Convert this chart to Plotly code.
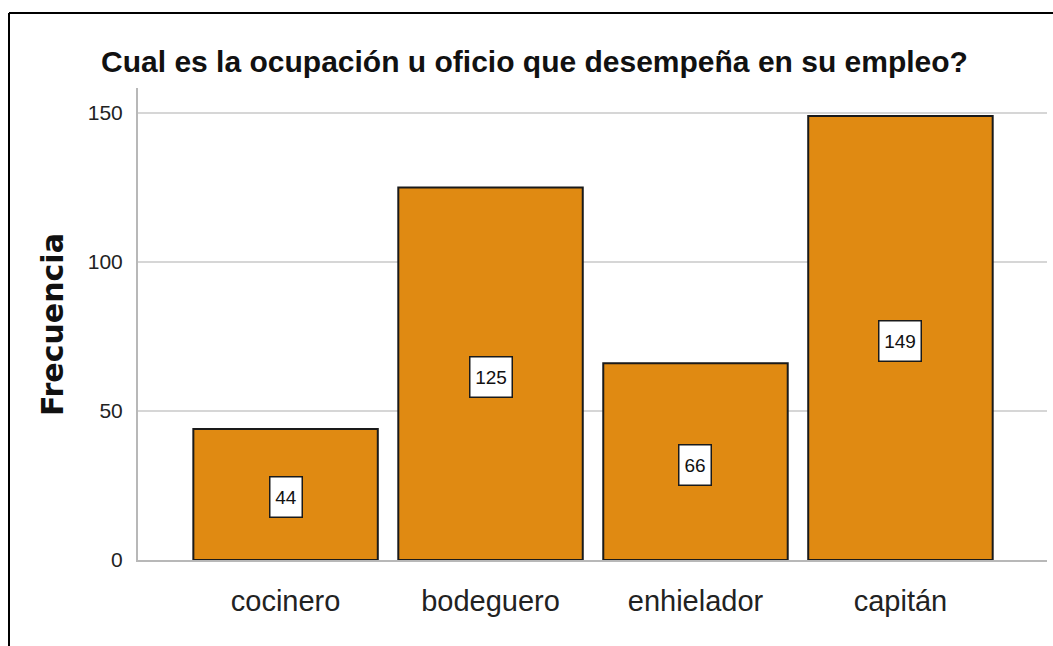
import plotly.graph_objects as go

categories = ["cocinero", "bodeguero", "enhielador", "capitán"]
frecuencia = [44, 125, 66, 149]
y_ticks = [0, 50, 100, 150]
title_text = "Cual es la ocupación u oficio que desempeña en su empleo?"
y_title = "Frecuencia"

SANS = "Liberation Sans, Arial, sans-serif"

fig = go.Figure()
fig.add_trace(go.Bar(
    x=categories, y=frecuencia, width=0.9,
    marker=dict(color="#E08A12", line=dict(color="#1a1a1a", width=2)),
    hoverinfo="x+y",
))

for c, v in zip(categories, frecuencia):
    s = str(v)
    fig.add_annotation(
        x=c, y=v / 2, xref="x", yref="y", yshift=-3, text=s, showarrow=False,
        font=dict(family=SANS, size=19, color="#111111"),
        bgcolor="white", bordercolor="#1a1a1a", borderwidth=1.5, borderpad=1,
        width=10 * len(s) + 9, height=37,
    )

fig.add_annotation(
    x=(52 - 138) / 909, y=(560 - 325) / 472, xref="paper", yref="paper",
    text="<b>" + y_title + "</b>", showarrow=False, textangle=-90,
    font=dict(family="DejaVu Sans", size=30, color="#111111"),
    xanchor="center", yanchor="middle",
)

# outer frame (top and left edges)
fig.add_shape(type="line", xref="paper", yref="paper",
              x0=(9 - 138) / 909, x1=(1053 - 138) / 909,
              y0=(560 - 13) / 472, y1=(560 - 13) / 472,
              line=dict(color="black", width=2))
fig.add_shape(type="line", xref="paper", yref="paper",
              x0=(9 - 138) / 909, x1=(9 - 138) / 909,
              y0=(560 - 13) / 472, y1=(560 - 646) / 472,
              line=dict(color="black", width=2))

fig.update_layout(
    width=1053, height=646,
    margin=dict(l=138, r=6, t=88, b=86),
    paper_bgcolor="white", plot_bgcolor="white",
    showlegend=False,
    title=dict(text="<b>" + title_text + "</b>", x=534.5 / 1053, xanchor="center",
               y=1 - 61 / 646, yanchor="middle",
               font=dict(family=SANS, size=30, color="#111111")),
    bargap=0.1,
)
fig.update_xaxes(
    type="category", range=[-0.72, 3.715],
    showgrid=False, showline=True, linecolor="#b8b8b8", linewidth=2,
    ticks="", ticklabelstandoff=14,
    tickfont=dict(family=SANS, size=29, color="#222222"),
    zeroline=False,
)
fig.update_yaxes(
    range=[0, 158.4], tickvals=y_ticks, ticktext=[str(t) for t in y_ticks],
    showgrid=True, gridcolor="#d6d6d6", gridwidth=2,
    showline=True, linecolor="#b8b8b8", linewidth=2,
    ticks="", ticklabelstandoff=9,
    tickfont=dict(family=SANS, size=21, color="#222222"),
    zeroline=False,
)

fig.write_html("out.html", config={"displayModeBar": False},
               post_script="document.body.style.margin='0';")
